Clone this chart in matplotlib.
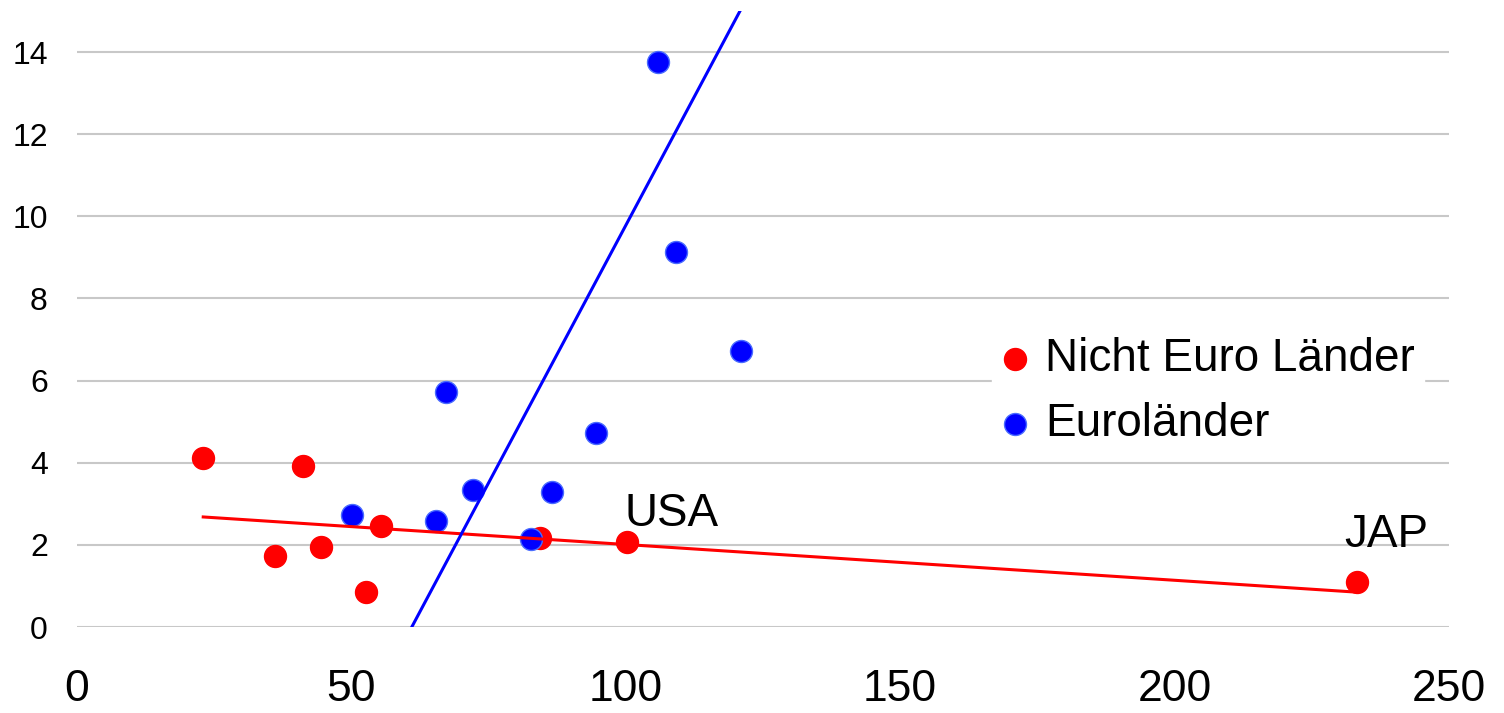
import numpy as np
import matplotlib
matplotlib.use("Agg")
import matplotlib.pyplot as plt

plt.rcParams['font.family'] = ['Liberation Sans', 'DejaVu Sans']

# Nicht Euro Laender (red)
nicht_euro_x = [23.0, 41.2, 36.1, 44.5, 55.4, 52.7, 84.4, 100.2, 233.2]
nicht_euro_y = [4.11, 3.92, 1.73, 1.95, 2.46, 0.85, 2.17, 2.07, 1.10]

# Euroländer (blue)
euro_x = [105.9, 109.1, 121.0, 67.2, 94.6, 72.2, 86.6, 50.1, 65.4, 82.7]
euro_y = [13.76, 9.13, 6.72, 5.72, 4.72, 3.34, 3.29, 2.73, 2.58, 2.14]

# trendlines: slope, intercept
trend_nicht_euro = (-0.00871, 2.88)
trend_euro = (0.2508, -15.30)

labels = {"USA": (100.2, 2.07), "JAP": (233.2, 1.10)}

xticks = [0, 50, 100, 150, 200, 250]
yticks = [0, 2, 4, 6, 8, 10, 12, 14]

fig = plt.figure(figsize=(15.04, 7.13), dpi=100)
ax = fig.add_axes([0.0512, 0.1206, 0.9122, 0.864])

ax.scatter(nicht_euro_x, nicht_euro_y, s=250, color='#ff0000', zorder=3,
           label='Nicht Euro Länder')
ax.scatter(euro_x, euro_y, s=250, color='#0000ff', edgecolors='#4a6cff',
           linewidths=1, zorder=3, label='Euroländer')

xs = np.array([min(nicht_euro_x), max(nicht_euro_x)])
ax.plot(xs, trend_nicht_euro[0] * xs + trend_nicht_euro[1], color='#ff0000', lw=2.2, zorder=4)

xs2 = np.array([min(euro_x), max(euro_x)])
ax.plot(xs2, trend_euro[0] * xs2 + trend_euro[1], color='#0000ff', lw=2.2, zorder=4)

ax.annotate("USA", labels["USA"], xytext=(-2, 6), textcoords='offset pixels',
            ha='left', va='bottom', fontsize=33, zorder=5)
ax.annotate("JAP", labels["JAP"], xytext=(-12, 25), textcoords='offset pixels',
            ha='left', va='bottom', fontsize=33, zorder=5)

ax.set_xlim(0, 250)
ax.set_ylim(0, 15)
ax.set_xticks(xticks)
ax.set_yticks(yticks)
ax.tick_params(axis='x', labelsize=32, length=0, pad=30)
ax.tick_params(axis='y', labelsize=23, length=0, pad=21)
ax.grid(axis='y', color='#c8c8c8', lw=1.5)
ax.set_axisbelow(True)
for sp in ax.spines.values():
    sp.set_visible(False)

leg = ax.legend(loc='upper left', bbox_to_anchor=(0.667, 0.485), fontsize=33,
                frameon=True, facecolor='white', edgecolor='white', framealpha=1,
                handletextpad=0.36, labelspacing=0.45, borderpad=0.2,
                borderaxespad=0, handlelength=0.6, markerscale=1.0)
leg.set_zorder(6)

fig.savefig("out.png", dpi=100)
